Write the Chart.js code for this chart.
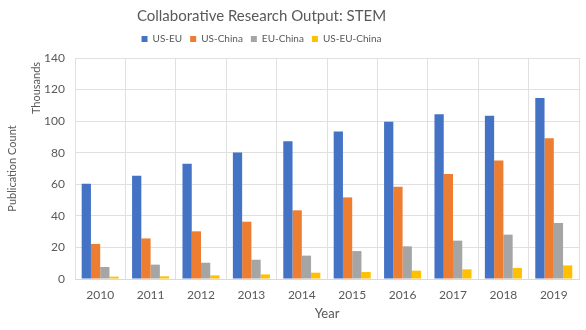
<!DOCTYPE html>
<html><head><meta charset="utf-8">
<script src="https://cdn.jsdelivr.net/npm/chart.js@4"></script>
<style>html,body{margin:0;padding:0;background:#fff}#wrap{width:586px;height:330px}</style>
</head><body><div id="wrap"><canvas id="c"></canvas></div>
<script>
const years = ["2010","2011","2012","2013","2014","2015","2016","2017","2018","2019"];
const usEu = [60.4,65.4,73.0,80.2,87.2,93.5,99.6,104.3,103.4,114.6];
const usChina = [22.2,25.7,30.2,36.3,43.5,51.7,58.5,66.5,75.1,89.1];
const euChina = [7.6,9.1,10.3,12.2,14.8,17.7,20.7,24.3,28.1,35.5];
const usEuChina = [1.5,1.7,2.3,2.9,4.0,4.4,5.3,6.1,7.0,8.6];
const seriesNames = ["US-EU","US-China","EU-China","US-EU-China"];
const colors = ["#4472C4","#ED7D31","#A5A5A5","#FFC000"];
const yTicks = [0,20,40,60,80,100,120,140];

const FONT = "Lato, 'Open Sans', sans-serif";
const txt = "#595959";
const SHIFT = -31;
const unitsLabel = {
  id:'unitsLabel',
  afterInit(chart){
    const l = chart.legend;
    if (l) { const f = l.fit.bind(l); l.fit = function(){ f(); this.height += 4; }; }
  },
  afterLayout(chart){
    [chart.titleBlock, chart.legend].forEach(b => { if (b) { b.left += SHIFT; b.right += SHIFT; } });
  },
  afterDraw(chart){
    const ctx = chart.ctx, y = chart.scales.y;
    ctx.save();
    ctx.fillStyle = txt;
    ctx.font = "11px " + FONT;
    ctx.translate(36, y.top + 30);
    ctx.rotate(-Math.PI/2);
    ctx.textAlign = 'center';
    ctx.textBaseline = 'middle';
    ctx.fillText("Thousands", 0, 0);
    ctx.restore();
  }
};
const data = [usEu, usChina, euChina, usEuChina];
new Chart(document.getElementById('c'), {
  type:'bar',
  data:{labels:years, datasets: data.map((d,i)=>({label:seriesNames[i], data:d, backgroundColor:colors[i], borderWidth:0, categoryPercentage:0.735, barPercentage:1}))},
  options:{
    responsive:true, maintainAspectRatio:false, animation:false,
    layout:{padding:{left:6,right:7,top:6,bottom:8}},
    plugins:{
      title:{display:true,text:"Collaborative Research Output: STEM",color:txt,font:{family:FONT,size:15,weight:'normal'},padding:{top:1,bottom:1}},
      legend:{position:'top',labels:{color:txt,font:{family:FONT,size:10},boxWidth:6,boxHeight:6,padding:8}},
      tooltip:{enabled:false}
    },
    scales:{
      x:{grid:{color:"#e0e0e0",drawTicks:false},border:{color:"#d9d9d9"},
         ticks:{color:txt,font:{family:FONT,size:12},padding:9},
         title:{display:true,text:"Year",color:txt,font:{family:FONT,size:13},padding:{top:3,bottom:0}},
         afterFit(s){s.height=43;}},
      y:{min:0,max:140,afterBuildTicks(s){s.ticks=yTicks.map(v=>({value:v}));},
         grid:{color:"#e0e0e0",drawTicks:false},border:{display:false},
         ticks:{color:txt,font:{family:FONT,size:12},padding:10},
         title:{display:true,text:"Publication Count",color:txt,font:{family:FONT,size:11},padding:{top:0,bottom:21}},
         afterFit(s){s.width=69;}}
    }
  },
  plugins:[unitsLabel]
});
</script></body></html>
